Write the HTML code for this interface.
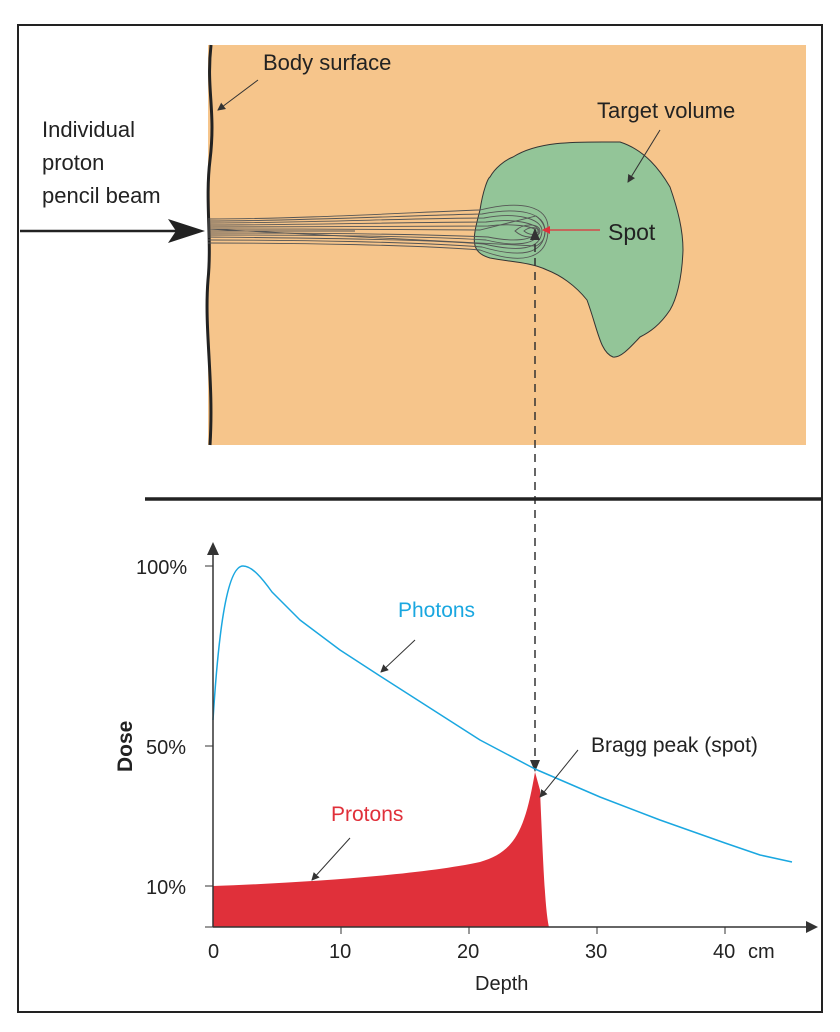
<!DOCTYPE html>
<html><head><style>
body{margin:0;background:#fff;}
svg{display:block;font-family:"Liberation Sans",sans-serif;}
</style></head><body>
<svg width="840" height="1032" viewBox="0 0 840 1032" xmlns="http://www.w3.org/2000/svg">
<defs>
<marker id="a" markerWidth="8" markerHeight="8" refX="7" refY="4" orient="auto" markerUnits="userSpaceOnUse"><path d="M0,0 L8,4 L0,8 Z" fill="#333"/></marker>
<marker id="ar" markerWidth="8" markerHeight="8" refX="7" refY="4" orient="auto" markerUnits="userSpaceOnUse"><path d="M0,0 L8,4 L0,8 Z" fill="#e0303a"/></marker>
</defs>
<rect x="18" y="25" width="804" height="987" fill="none" stroke="#222" stroke-width="2"/>
<rect x="208" y="45" width="598" height="400" fill="#f6c58b"/>
<path d="M211,45 C206,90 216,110 210,160 C205,200 212,240 208,280 C204,330 214,380 210,445" fill="none" stroke="#222" stroke-width="3"/>
<path d="M513,157 C540,140 580,142 620,142 C645,150 660,170 670,187 C678,210 683,230 683,250 C682,280 676,300 670,310 C660,325 650,332 640,337 C628,350 620,358 613,357 C600,352 598,330 587,300 C575,285 560,275 547,270 C530,262 510,262 490,258 C470,252 472,240 480,210 C483,190 488,178 490,177 C495,168 505,160 513,157 Z" fill="#93c598" stroke="#333" stroke-width="1"/>
<g fill="none" stroke="#555" stroke-width="0.9">
<path d="M208,219 C300,219 420,212 480,210 C520,200 550,205 548,231 C547,260 520,265 480,250 C420,245 300,243 208,243"/>
<path d="M208,221 C300,221 420,215 482,214 C518,207 545,212 545,231 C544,255 520,258 482,247 C420,242 300,240 208,240"/>
<path d="M208,223 C300,223 420,218 484,218 C515,212 542,218 542,231 C541,250 518,252 484,244 C420,239 300,238 208,237"/>
<path d="M208,225 C300,225 420,222 486,222 C512,218 538,223 539,231 C538,245 515,247 486,240 C420,236 300,235 208,235"/>
<path d="M208,227 C300,227 420,226 488,226 C510,223 535,226 536,231 C535,241 512,242 488,237 C420,234 300,233 208,233"/>
<path d="M208,229 C300,229 420,229 480,230 L536,216 C548,225 548,240 536,246 Z"/>
<path d="M515,231 C525,222 540,224 540,231 C540,238 525,240 515,231 Z"/>
<path d="M524,231 C530,226 538,227 538,231 C538,235 530,236 524,231 Z"/>
<path d="M208,231 L355,231"/>
</g>
<line x1="20" y1="231" x2="200" y2="231" stroke="#222" stroke-width="2.5"/>
<path d="M168,219 L205,231 L168,243 L176,231 Z" fill="#222"/>
<line x1="600" y1="230" x2="543" y2="230" stroke="#e0303a" stroke-width="1.2" marker-end="url(#ar)"/>
<line x1="535" y1="770" x2="535" y2="232" stroke="#333" stroke-width="1.5" stroke-dasharray="8,6"/>
<path d="M530,240 L535,228 L540,240 Z" fill="#333"/>
<path d="M530,760 L535,772 L540,760 Z" fill="#333"/>
<line x1="258" y1="80" x2="218" y2="110" stroke="#333" stroke-width="1" marker-end="url(#a)"/>
<line x1="660" y1="130" x2="628" y2="182" stroke="#333" stroke-width="1" marker-end="url(#a)"/>
<g font-size="22" fill="#222">
<text x="263" y="70">Body surface</text>
<text x="597" y="118">Target volume</text>
<text x="42" y="137">Individual</text>
<text x="42" y="170">proton</text>
<text x="42" y="203">pencil beam</text>
<text x="608" y="240" font-size="23">Spot</text>
</g>
<line x1="145" y1="499" x2="822" y2="499" stroke="#222" stroke-width="3.5"/>
<path d="M213,886 C300,883 420,875 480,862 C515,852 525,830 535,772 L540,790 C543,860 545,910 549,927 L213,927 Z" fill="#e0303a"/>
<path d="M213,720 C218,640 226,566 243,566 C252,566 262,578 272,592 L300,620 L340,650 L380,676 L430,708 L480,740 L535,769 L600,797 L660,820 L725,843 L760,855 L792,862" fill="none" stroke="#1aa7e0" stroke-width="1.5" stroke-linejoin="round"/>
<line x1="213" y1="927" x2="810" y2="927" stroke="#333" stroke-width="1.5"/>
<path d="M806,921 L818,927 L806,933 Z" fill="#333"/>
<line x1="213" y1="927" x2="213" y2="550" stroke="#333" stroke-width="1.5"/>
<path d="M207,555 L213,542 L219,555 Z" fill="#333"/>
<g stroke="#333" stroke-width="1">
<line x1="205" y1="566" x2="213" y2="566"/><line x1="205" y1="746" x2="213" y2="746"/><line x1="205" y1="886" x2="213" y2="886"/><line x1="205" y1="927" x2="213" y2="927"/>
<line x1="341" y1="927" x2="341" y2="934"/><line x1="469" y1="927" x2="469" y2="934"/><line x1="597" y1="927" x2="597" y2="934"/><line x1="725" y1="927" x2="725" y2="934"/>
</g>
<line x1="415" y1="640" x2="381" y2="672" stroke="#333" stroke-width="1" marker-end="url(#a)"/>
<line x1="350" y1="838" x2="312" y2="880" stroke="#333" stroke-width="1" marker-end="url(#a)"/>
<line x1="578" y1="750" x2="540" y2="797" stroke="#333" stroke-width="1" marker-end="url(#a)"/>
<g font-size="20" fill="#222">
<text x="136" y="574">100%</text>
<text x="146" y="754">50%</text>
<text x="146" y="894">10%</text>
<text x="208" y="958">0</text>
<text x="329" y="958">10</text>
<text x="457" y="958">20</text>
<text x="585" y="958">30</text>
<text x="713" y="958">40</text>
<text x="748" y="958">cm</text>
<text x="475" y="990">Depth</text>
<text x="591" y="752" font-size="21">Bragg peak (spot)</text>
<text x="132" y="772" transform="rotate(-90 132 772)" font-weight="bold" font-size="21">Dose</text>
<text x="398" y="617" fill="#1aa7e0" font-size="21">Photons</text>
<text x="331" y="821" fill="#e0303a" font-size="21">Protons</text>
</g>
</svg>
</body></html>
